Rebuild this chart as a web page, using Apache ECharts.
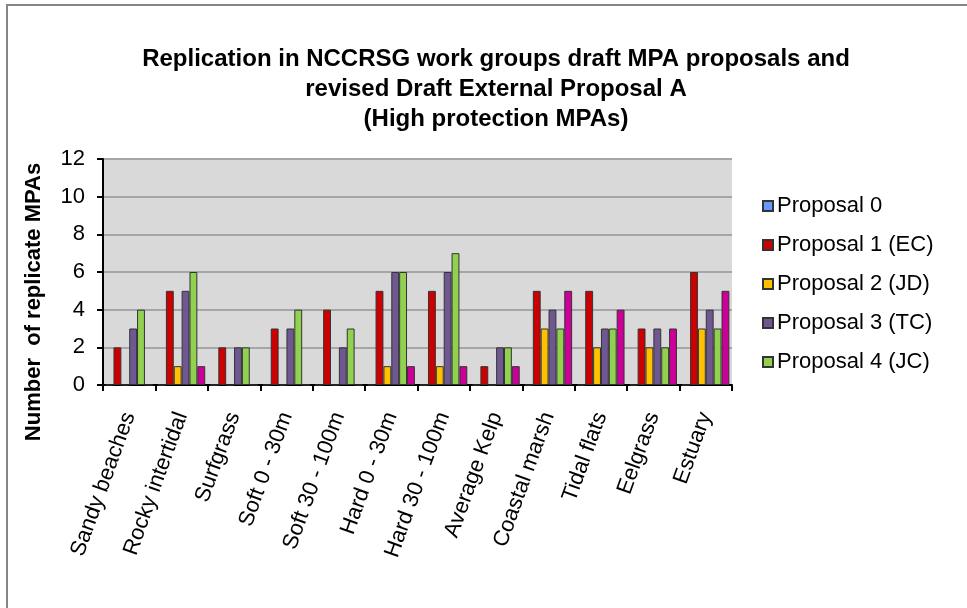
<!DOCTYPE html>
<html>
<head>
<meta charset="utf-8">
<script src="https://cdn.jsdelivr.net/npm/echarts@6/dist/echarts.min.js"></script>
<style>
  html, body { margin: 0; padding: 0; background: #fff; }
  #chart { width: 967px; height: 608px; }
</style>
</head>
<body>
<div id="chart"></div>
<script>
const categories = ['Sandy beaches', 'Rocky intertidal', 'Surfgrass', 'Soft 0 - 30m', 'Soft 30 - 100m',
  'Hard 0 - 30m', 'Hard 30 - 100m', 'Average Kelp', 'Coastal marsh', 'Tidal flats', 'Eelgrass', 'Estuary'];

const proposal0 = [0, 0, 0, 0, 0, 0, 0, 0, 0, 0, 0, 0];
const proposal1 = [2, 5, 2, 3, 4, 5, 5, 1, 5, 5, 3, 6];
const proposal2 = [0, 1, 0, 0, 0, 1, 1, 0, 3, 2, 2, 3];
const proposal3 = [3, 5, 2, 3, 2, 6, 6, 2, 4, 3, 3, 4];
const proposal4 = [4, 6, 2, 4, 3, 6, 7, 2, 3, 3, 2, 3];
// sixth series, its legend entry is cut off in the original
const proposalA = [0, 1, 0, 0, 0, 1, 1, 1, 5, 4, 3, 5];

const seriesNames = ['Proposal 0', 'Proposal 1 (EC)', 'Proposal 2 (JD)', 'Proposal 3 (TC)', 'Proposal 4 (JC)', 'Proposal A'];
const seriesData = [proposal0, proposal1, proposal2, proposal3, proposal4, proposalA];
const colors = ['#6699FF', '#CC0000', '#FFC000', '#6F5891', '#92D050', '#CC0099'];

const chart = echarts.init(document.getElementById('chart'));

const font = 'Liberation Sans, Arial, sans-serif';

const option = {
  animation: false,
  backgroundColor: '#fff',
  title: {
    text: 'Replication in NCCRSG work groups draft MPA proposals and\nrevised Draft External Proposal A\n(High protection MPAs)',
    left: 491,
    textAlign: 'center',
    top: 39,
    textStyle: {
      fontFamily: font,
      fontSize: 24,
      fontWeight: 'bold',
      color: '#000',
      lineHeight: 30
    }
  },
  legend: {
    data: seriesNames.slice(0, 5),
    orient: 'vertical',
    left: 757,
    top: 190,
    itemWidth: 10,
    itemHeight: 10,
    itemGap: 17,
    icon: 'rect',
    textStyle: { fontFamily: font, fontSize: 22, color: '#000', padding: [0, 0, 0, -1] }
  },
  grid: {
    left: 103,
    right: 235,
    top: 159,
    bottom: 223,
    show: true,
    backgroundColor: '#D9D9D9',
    borderWidth: 0
  },
  xAxis: {
    type: 'category',
    data: categories,
    axisLine: { lineStyle: { color: '#000', width: 2 } },
    axisTick: { show: true, length: 6, lineStyle: { color: '#000', width: 2 } },
    axisLabel: {
      rotate: 70,
      margin: 28,
      interval: 0,
      fontFamily: font,
      fontSize: 22,
      color: '#000'
    }
  },
  yAxis: {
    type: 'value',
    min: 0,
    max: 12,
    interval: 2,
    axisLine: { show: true, lineStyle: { color: '#000', width: 2 } },
    axisTick: { show: true, length: 6, lineStyle: { color: '#000', width: 2 } },
    axisLabel: { fontFamily: font, fontSize: 22, color: '#000', margin: 18 },
    splitLine: { lineStyle: { color: '#A6A6A6', width: 2 } }
  },
  graphic: [
    {
      type: 'rect',
      shape: { x: 7, y: 5, width: 1000, height: 700 },
      style: { fill: 'none', stroke: '#868686', lineWidth: 2 },
      z: -10
    },
    {
      type: 'text',
      x: 34,
      y: 302,
      rotation: Math.PI / 2,
      style: {
        text: 'Number  of replicate MPAs',
        font: 'bold 22px ' + font,
        fill: '#000',
        textAlign: 'center',
        textVerticalAlign: 'middle'
      }
    }
  ],
  series: seriesNames.map((name, i) => ({
    name: name,
    type: 'bar',
    data: seriesData[i],
    barGap: '0%',
    barCategoryGap: '10%',
    itemStyle: { color: colors[i], borderColor: '#333', borderWidth: 1 }
  }))
};

chart.setOption(option);
</script>
</body>
</html>
